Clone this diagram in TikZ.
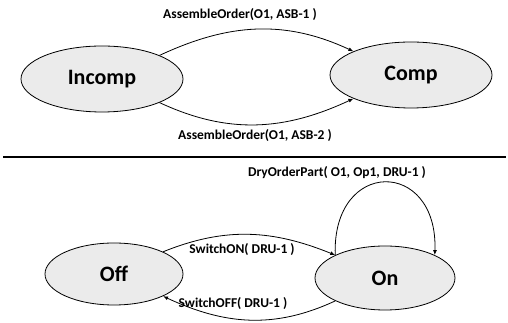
\documentclass[tikz,border=0pt]{standalone}
\usepackage{fontspec}
\setmainfont{Carlito}
\usetikzlibrary{shapes.geometric, arrows.meta}

\tikzset{
	state/.style = {ellipse, draw = black, line width = .8pt, fill = black!8, minimum width = 162pt, minimum height = 66pt, inner sep = 0pt, font = \fontsize{22}{26}\selectfont\bfseries},
	trans/.style = {line width = .8pt, -{Latex[length = 5pt, width = 4pt]}},
	lbl/.style = {inner sep = 1pt, font = \fontsize{13.5}{16}\selectfont\bfseries}
}

\begin{document}
\begin{tikzpicture}[x = 1pt, y = 1pt]
	\useasboundingbox (0, 0) rectangle (508, 323);
	% order states
	\node [state] (incomp) at (102, 244) {Incomp};
	\node [state] (comp) at (411, 248) {Comp};
	\draw [trans] (incomp.north east) to [out = 25, in = 155] (comp.north west);
	\draw [trans] (incomp.south east) to [out = -25, in = -155] (comp.south west);
	\node [lbl] (asbone) at (240, 308) {AssembleOrder(O1, ASB-1 )};
	\node [lbl] (asbtwo) at (255, 187) {AssembleOrder(O1, ASB-2 )};
	% separator
	\coordinate (sepl) at (3, 166);
	\coordinate (sepr) at (506, 166);
	\draw [line width = 2.2pt] (sepl) -- (sepr);
	% dryer states
	\node [state, minimum width = 138pt, minimum height = 62pt] (off) at (114, 49) {Off};
	\node [state, minimum width = 140pt, minimum height = 64pt] (on) at (385, 45) {On};
	\draw [trans] (off.north east) to [out = 22, in = 158] (on.north west);
	\draw [trans] (on.south west) to [out = -155, in = -25] (off.south east);
	\draw [trans] (on.north west) to [out = 92, in = 88, looseness = 2.5] (on.north east);
	\node [lbl] (swon) at (242, 73) {SwitchON( DRU-1 )};
	\node [lbl] (swoff) at (233, 19) {SwitchOFF( DRU-1 )};
	\node [lbl] (dry) at (337, 150) {DryOrderPart( O1, Op1, DRU-1 )};
\end{tikzpicture}
\end{document}
